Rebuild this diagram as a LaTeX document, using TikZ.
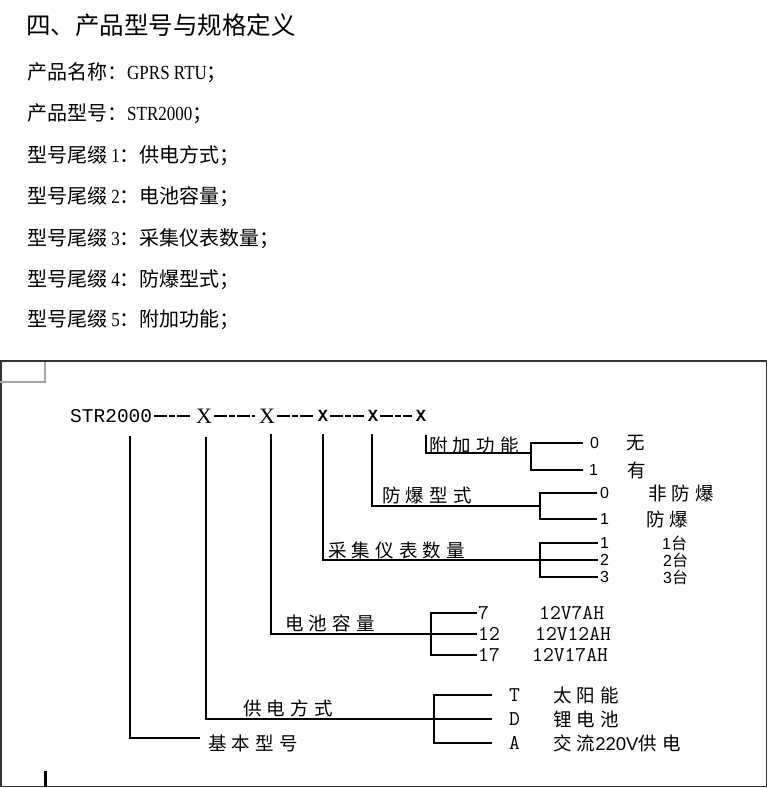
\documentclass[tikz,border=0pt]{standalone}
\usepackage{fontspec}
\setmainfont{Liberation Serif}
\newfontfamily\cjk{Noto Sans CJK SC}
\newfontfamily\cjkwide[LetterSpace=28]{Noto Sans CJK SC}
\newfontfamily\monofont{Liberation Mono}
\newfontfamily\sansdigit{Liberation Sans}
\newfontfamily\latnarrow[FakeStretch=0.85]{Liberation Serif}
\newcommand{\lat}[1]{{\latnarrow\fontsize{20}{22}\selectfont #1}}

\tikzset{
  heading/.style={anchor=west, inner sep=0pt, font=\cjk\fontsize{24.5}{28}\selectfont},
  para/.style={anchor=west, inner sep=0pt, font=\cjk\fontsize{20}{24}\selectfont},
  tag/.style={anchor=west, inner sep=0pt, font=\cjkwide\fontsize{18.5}{20}\selectfont},
  smalltag/.style={anchor=west, inner sep=0pt, font=\cjk\fontsize{16}{17}\selectfont},
  codeno/.style={anchor=west, inner sep=0pt, font=\ttfamily\fontsize{21}{22}\selectfont},
  digit/.style={anchor=west, inner sep=0pt, font=\sansdigit\fontsize{16}{17}\selectfont},
  bigx/.style={inner sep=0pt, font=\rmfamily\fontsize{22}{24}\selectfont},
  smallx/.style={inner sep=0pt, font=\monofont\bfseries\fontsize{17}{20}\selectfont},
  wire/.style={line width=1.8pt},
  dashwire/.style={line width=1.3pt, dash pattern=on 13pt off 2pt on 6pt off 2pt,
    shorten <=2pt, shorten >=4pt},
  boxline/.style={line width=1.8pt, draw=black!80},
  cornermark/.style={line width=1.3pt, draw=black!35},
}

\begin{document}
\begin{tikzpicture}[x=1pt,y=-1pt]
  \useasboundingbox (0,0) rectangle (768,788);

  % heading and text lines
  \node[heading] (title) at (26,25) {四、产品型号与规格定义};
  \node[para] (pname) at (27,73) {产品名称：\lat{GPRS RTU}；};
  \node[para] (pmodel) at (27,114) {产品型号：\lat{STR2000}；};
  \node[para] (suf1) at (27,156) {型号尾缀\lat{\ 1}：供电方式；};
  \node[para] (suf2) at (27,197) {型号尾缀\lat{\ 2}：电池容量；};
  \node[para] (suf3) at (27,239) {型号尾缀\lat{\ 3}：采集仪表数量；};
  \node[para] (suf4) at (27,280) {型号尾缀\lat{\ 4}：防爆型式；};
  \node[para] (suf5) at (27,320) {型号尾缀\lat{\ 5}：附加功能；};

  % frame
  \draw[boxline] (1,361) rectangle (766.5,786.5);
  \draw[cornermark] (0,382) -- (45,382) -- (45,361.5);
  \draw[line width=3pt] (45,771) -- (45,786.5);

  % model code
  \node[codeno, font=\monofont\fontsize{19.5}{22}\selectfont] (str) at (70,416) {STR2000};
  \node[bigx] (x1) at (204,416) {X};
  \node[bigx] (x2) at (267,416) {X};
  \node[smallx] (x3) at (323,416) {X};
  \node[smallx] (x4) at (373,416) {X};
  \node[smallx] (x5) at (421,416) {X};
  \draw[dashwire] (str) -- (x1);
  \draw[dashwire] (x1) -- (x2);
  \draw[dashwire] (x2) -- (x3);
  \draw[dashwire] (x3) -- (x4);
  \draw[dashwire] (x4) -- (x5);

  \coordinate (t0) at (130,436);
  \coordinate (t1) at (206,437);
  \coordinate (t2) at (271,434);
  \coordinate (t3) at (323,434);
  \coordinate (t4) at (372,434);
  \coordinate (t5) at (426,435);

  % base model
  \node[tag] (base) at (208,743) {基本型号};
  \draw[wire] (t0) |- ([xshift=-8pt,yshift=5pt]base.west);

  % power supply
  \node[tag] (power) at (243,708) {供电方式};
  \node[codeno] (cT) at (509,695) {T};
  \node[codeno] (cD) at (509,719) {D};
  \node[codeno] (cA) at (509,743) {A};
  \node[tag] (mT) at (553,695) {太阳能};
  \node[tag] (mD) at (553,719) {锂电池};
  \node[tag] (mA) at (553,743) {交流{\sansdigit 220V}供电};
  \coordinate (k1) at (434,719);
  \draw[wire] (t1) |- ([xshift=-17pt]cD.west);
  \draw[wire] ([xshift=-17pt]cT.west) -| (k1) |- ([xshift=-17pt]cA.west);

  % battery
  \node[tag] (batt) at (285,623) {电池容量};
  \node[codeno] (c7) at (478,613) {7};
  \node[codeno] (c12) at (478,634) {12};
  \node[codeno] (c17) at (478,655) {17};
  \node[codeno] (m7) at (539,613) {12V7AH};
  \node[codeno] (m12) at (535,634) {12V12AH};
  \node[codeno] (m17) at (532,655) {12V17AH};
  \coordinate (k2) at (431,634);
  \draw[wire] (t2) |- ([xshift=-1pt]c12.west);
  \draw[wire] ([xshift=-1pt]c7.west) -| (k2) |- ([xshift=-1pt]c17.west);

  % meter count
  \node[tag] (meter) at (328,550) {采集仪表数量};
  \node[digit] (n1) at (600,543) {1};
  \node[digit] (n2) at (600,560) {2};
  \node[digit] (n3) at (600,577) {3};
  \node[smalltag] (m1) at (662,543) {{\sansdigit 1}台};
  \node[smalltag] (m2) at (663,560) {{\sansdigit 2}台};
  \node[smalltag] (m3) at (663,577) {{\sansdigit 3}台};
  \coordinate (k3) at (540,560);
  \draw[wire] (t3) |- ([xshift=-2pt]n2.west);
  \draw[wire] ([xshift=-2pt]n1.west) -| (k3) |- ([xshift=-2pt]n3.west);

  % explosion proof
  \node[tag] (exp) at (382,495) {防爆型式};
  \node[digit] (e0) at (600,493) {0};
  \node[digit] (e1) at (600,519) {1};
  \node[tag] (me0) at (648,493) {非防爆};
  \node[tag] (me1) at (646,519) {防爆};
  \coordinate (k4) at (540,506);
  \draw[wire] (t4) |- (k4);
  \draw[wire] ([xshift=-3pt]e0.west) -| (k4) |- ([xshift=-3pt]e1.west);

  % extra function
  \node[tag] (extra) at (429,445) {附加功能};
  \node[digit] (f0) at (590,443) {0};
  \node[digit] (f1) at (589,470) {1};
  \node[tag] (mf0) at (626,443) {无};
  \node[tag] (mf1) at (627,470) {有};
  \coordinate (k5) at (531,453);
  \draw[wire] (t5) |- (k5);
  \draw[wire] ([xshift=-7pt]f0.west) -| (k5) |- ([xshift=-6pt]f1.west);
\end{tikzpicture}
\end{document}
